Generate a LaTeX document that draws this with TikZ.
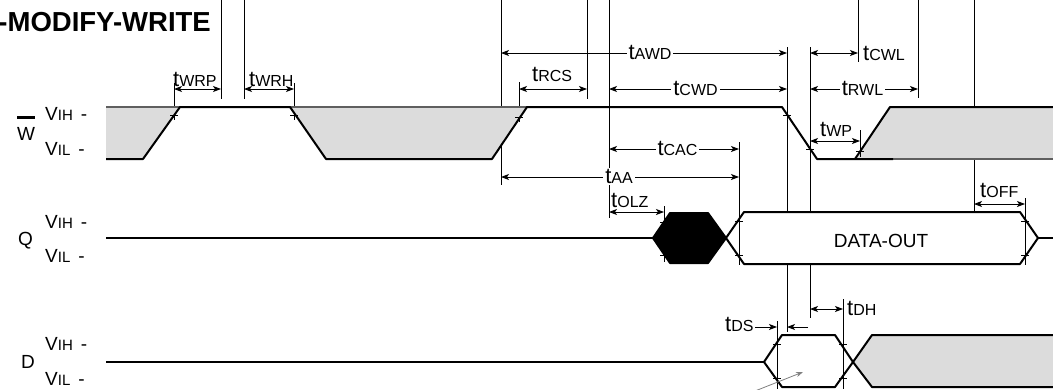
\documentclass[tikz,border=0pt]{standalone}
\usepackage{fontspec}
\setmainfont{Liberation Sans}
\usetikzlibrary{arrows.meta}
\definecolor{dcgray}{RGB}{220,220,220}
\definecolor{edgegray}{RGB}{95,95,95}
\newcommand{\tlab}[1]{{\fontsize{22}{22}\selectfont t}{\fontsize{16}{16}\selectfont #1}}
\newcommand{\vlab}[1]{{\fontsize{19}{19}\selectfont V}{\fontsize{15}{15}\selectfont #1}\hspace{8pt}{\fontsize{19}{19}\selectfont -}}
\begin{document}
\begin{tikzpicture}[x=1pt,y=-1pt,
  wave/.style={line width=2pt,line join=round},
  vline/.style={line width=0.9pt},
  gedge/.style={draw=edgegray,line width=1.2pt},
  dim/.style={line width=0.9pt,{Stealth[length=8pt,width=6pt,inset=2pt]}-{Stealth[length=8pt,width=6pt,inset=2pt]}},
  dimr/.style={line width=0.9pt,-{Stealth[length=8pt,width=6pt,inset=2pt]}},
  lab/.style={inner sep=0pt,anchor=base west},
  mlab/.style={inner xsep=2pt,inner ysep=1pt,fill=white,anchor=base},
  side/.style={inner sep=0pt,anchor=base west,font=\fontsize{19}{19}\selectfont}]
\useasboundingbox (0,0) rectangle (1053,389);

% title
\node[anchor=base east,inner sep=0pt,font=\bfseries\fontsize{27.5}{27.5}\selectfont] (title) at (211,31) {-MODIFY-WRITE};

% side labels
\node[side] (wl) at (17,140) {W};
\draw[line width=2.5pt] (17,117.5) -- (35,117.5);
\node[lab] (wvih) at (45,120) {\vlab{IH}};
\node[lab] (wvil) at (45,155) {\vlab{IL}};
\node[side] (ql) at (18,245) {Q};
\node[lab] (qvih) at (45,228) {\vlab{IH}};
\node[lab] (qvil) at (45,262) {\vlab{IL}};
\node[side] (dl) at (21,368) {D};
\node[lab] (dvih) at (45,350) {\vlab{IH}};
\node[lab] (dvil) at (45,385) {\vlab{IL}};

% vertical reference lines
\draw[vline] (174,83) -- (174,120);
\draw[vline] (221,0) -- (221,99);
\draw[vline] (244,0) -- (244,99);
\draw[vline] (294,83) -- (294,120);
\draw[vline] (501,0) -- (501,185);
\draw[vline] (519,82) -- (519,122);
\draw[vline] (587,0) -- (587,99);
\draw[vline] (609,0) -- (609,218);
\draw[vline] (664,206) -- (664,227);
\draw[vline] (664,249) -- (664,262);
\draw[vline] (739,142) -- (739,265);
\draw[vline] (777,321) -- (777,389);
\draw[vline] (787,47) -- (787,212);
\draw[vline] (787,264) -- (787,332);
\draw[vline] (810,47) -- (810,212);
\draw[vline] (810,264) -- (810,318);
\draw[vline] (843,299) -- (843,389);
\draw[vline] (858,0) -- (858,62);
\draw[vline] (918,0) -- (918,98);
\draw[vline] (974,0) -- (974,212);
\draw[vline] (1025,198) -- (1025,265);

% W waveform
\fill[dcgray] (106,107) -- (180,107) -- (143,159) -- (106,159) -- cycle;
\fill[dcgray] (290,107) -- (326,159) -- (492,159) -- (527,107) -- cycle;
\fill[dcgray] (855,159) -- (890,107) -- (1053,107) -- (1053,159) -- cycle;
\draw[gedge] (106,107) -- (180,107);
\draw[gedge] (290,107) -- (527,107);
\draw[gedge] (893,159) -- (1053,159);
\draw[wave] (106,159) -- (143,159) -- (180,107) -- (290,107) -- (326,159) -- (492,159) -- (527,107) -- (782,107) -- (817,159) -- (893,159);
\draw[wave] (855,159) -- (890,107) -- (1055,107);
\draw[vline] (860,130) -- (860,157);

% Q waveform
\draw[wave] (106,238) -- (653,238);
\filldraw[wave,fill=black] (653,238) -- (670,213) -- (708,213) -- (726,238) -- (708,263) -- (670,263) -- cycle;
\draw[wave] (726,238) -- (744,212) -- (1020,212) -- (1038,238) -- (1020,264) -- (744,264) -- cycle;
\draw[wave] (1038,238) -- (1055,238);
\node[font=\fontsize{19}{19}\selectfont] (dout) at (881,240.5) {DATA-OUT};

% D waveform
\draw[wave] (106,362) -- (764,362);
\draw[wave] (764,362) -- (782,335) -- (835,335) -- (853,362) -- (835,387) -- (782,387) -- cycle;
\fill[dcgray] (853,362) -- (872,335) -- (1053,335) -- (1053,387) -- (872,387) -- cycle;
\draw[wave] (1055,335) -- (872,335) -- (853,362) -- (872,387) -- (1055,387);
\draw[draw=gray,line width=0.8pt,-{Stealth[length=7pt,width=5pt]}] (755,391) -- (803,372);

% threshold ticks
\foreach \x/\y in {174/115,294/115,519/117,787/115,810/149,860/151,
  664/222,664/255,739/221,739/255,1025/221,1025/255,
  777/344,777/378,843/344,843/378}
  \draw[vline] (\x-4,\y) -- (\x+4,\y);

% dimension arrows
\draw[dim] (174,89) -- (221,89);
\draw[dim] (244,89) -- (294,89);
\draw[dim] (519,89) -- (587,89);
\draw[dim] (501,53) -- (787,53);
\draw[dim] (609,89) -- (787,89);
\draw[dim] (810,53) -- (858,53);
\draw[dim] (810,89) -- (918,89);
\draw[dim] (810,141) -- (860,141);
\draw[dim] (609,149) -- (739,149);
\draw[dim] (501,177) -- (739,177);
\draw[dim] (609,212) -- (664,212);
\draw[dim] (974,204) -- (1025,204);
\draw[dim] (810,309) -- (843,309);
\draw[dimr] (755,327) -- (777,327);
\draw[dimr] (808,327) -- (787,327);

% timing labels
\node[lab] (twrp) at (173,86) {\tlab{WRP}};
\node[lab] (twrh) at (249,86) {\tlab{WRH}};
\node[lab] (trcs) at (532,81) {\tlab{RCS}};
\node[mlab] (tawd) at (650,59.5) {\tlab{AWD}};
\node[mlab] (tcwd) at (695.5,95.5) {\tlab{CWD}};
\node[lab] (tcwl) at (863,60) {\tlab{CWL}};
\node[mlab] (trwl) at (862.5,95.5) {\tlab{RWL}};
\node[lab] (twp) at (820,136.5) {\tlab{WP}};
\node[mlab] (tcac) at (677.5,155.5) {\tlab{CAC}};
\node[mlab] (taa) at (619,183.5) {\tlab{AA}};
\node[lab] (tolz) at (611,207.5) {\tlab{OLZ}};
\node[lab] (toff) at (980,197.5) {\tlab{OFF}};
\node[lab] (tdh) at (847,315) {\tlab{DH}};
\node[lab] (tds) at (725,331) {\tlab{DS}};
\end{tikzpicture}
\end{document}
